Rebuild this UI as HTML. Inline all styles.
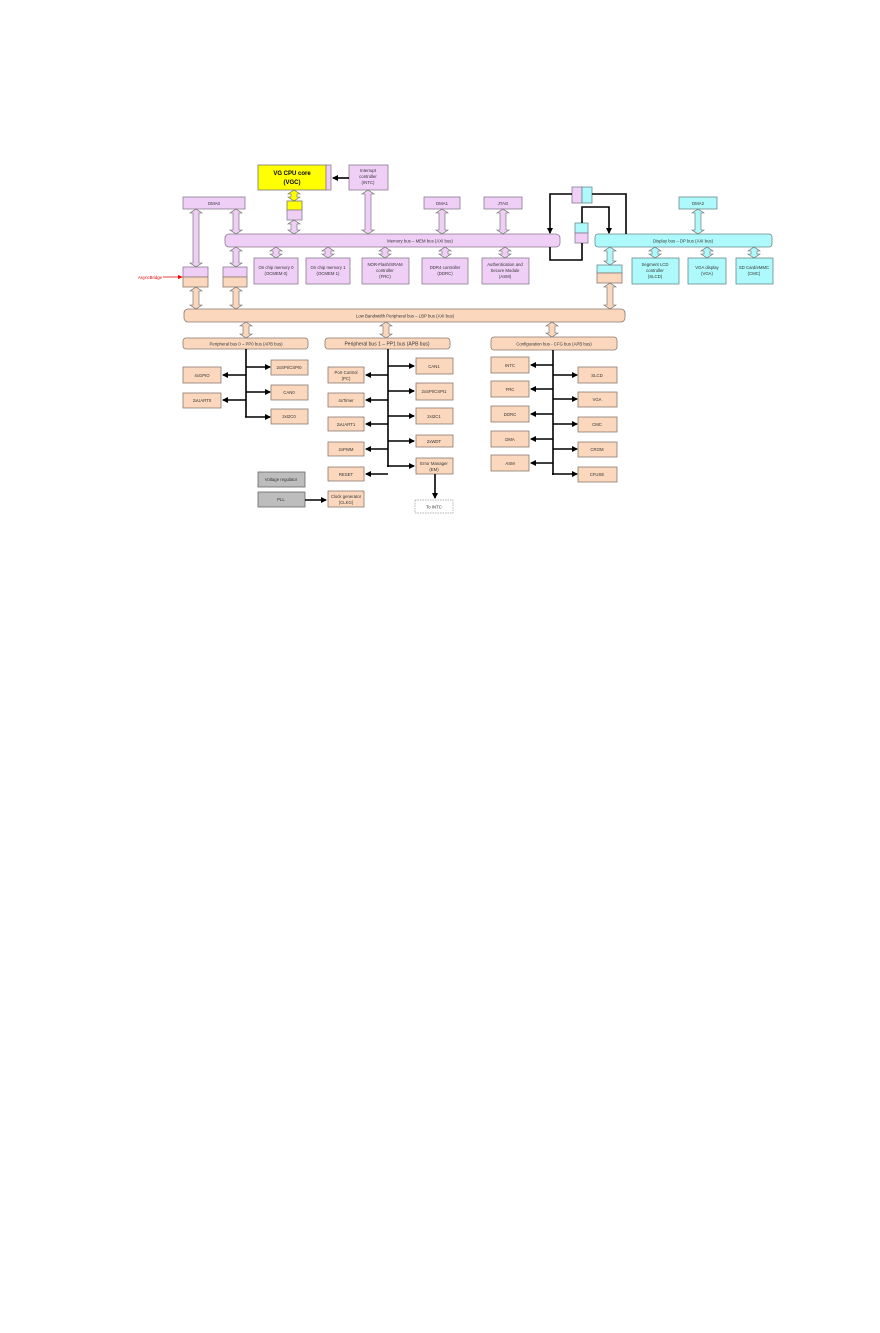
<!DOCTYPE html>
<html><head><meta charset="utf-8"><style>
html,body{margin:0;padding:0;background:#fff;}
svg{display:block;}
text{font-family:"Liberation Sans",sans-serif;font-size:4.3px;fill:#333;text-anchor:middle;}
.p{fill:#f0cff7;stroke:#8a7a90;stroke-width:0.8;}
.c{fill:#aef9fb;stroke:#6a8a8c;stroke-width:0.8;}
.o{fill:#fbd8bd;stroke:#8a7a70;stroke-width:0.8;}
.g{fill:#bdbdbd;stroke:#666;stroke-width:0.8;}
.ap{fill:#f0cff7;stroke:#666;stroke-width:0.6;}
.ac{fill:#aef9fb;stroke:#666;stroke-width:0.6;}
.ao{fill:#fbd8bd;stroke:#666;stroke-width:0.6;}
.ln{stroke:#000;stroke-width:1.6;fill:none;}
</style></head><body>
<svg width="880" height="1333" viewBox="0 0 880 1333" xmlns="http://www.w3.org/2000/svg">
<defs><marker id="ah" markerWidth="6" markerHeight="6" refX="5" refY="3" orient="auto" markerUnits="userSpaceOnUse"><path d="M0,0L6,3L0,6z" fill="#000"/></marker></defs>

<!-- CPU -->
<rect x="258" y="165" width="68" height="25" fill="#ffff00" stroke="#777" stroke-width="0.8"/>
<rect x="326" y="165" width="5" height="25" class="p"/>
<text x="292" y="175" style="font-size:6px;font-weight:bold;fill:#000">VG CPU core</text>
<text x="292" y="184" style="font-size:6px;font-weight:bold;fill:#000">(VGC)</text>
<rect x="349" y="165" width="39" height="25" class="p"/>
<text x="368" y="172">Interrupt</text><text x="368" y="178">controller</text><text x="368" y="184">(INTC)</text>
<line x1="349" y1="178" x2="333" y2="178" class="ln" marker-end="url(#ah)"/>
<rect x="287" y="201" width="15" height="9" fill="#ffff00" stroke="#777" stroke-width="0.8"/>
<rect x="287" y="210" width="15" height="10" class="p"/>
<path d="M294,190l6,4h-3v3h3l-6,4l-6,-4h3v-3h-3z" fill="#ffff00" stroke="#666" stroke-width="0.6"/>

<!-- top purple boxes -->
<rect x="183" y="197" width="62" height="12" class="p"/><text x="214" y="205">DMA0</text>
<rect x="424" y="197" width="36" height="12" class="p"/><text x="442" y="205">DMA1</text>
<rect x="484" y="197" width="38" height="12" class="p"/><text x="503" y="205">JTAG</text>
<rect x="679" y="197" width="38" height="12" class="c"/><text x="698" y="205">DMA2</text>

<!-- memory bus -->
<rect x="225" y="234" width="335" height="13" rx="4" class="p"/>
<text x="420" y="242.5">Memory bus – MEM bus (AXI bus)</text>
<rect x="595" y="234" width="177" height="13" rx="3" class="c"/>
<text x="683" y="242.5">Display bus – DP bus (AXI bus)</text>

<!-- memory modules -->
<rect x="254" y="258" width="44" height="26" class="p"/><text x="276" y="269">On chip memory 0</text><text x="276" y="275">(OCMEM 0)</text>
<rect x="306" y="258" width="44" height="26" class="p"/><text x="328" y="269">On chip memory 1</text><text x="328" y="275">(OCMEM 1)</text>
<rect x="362" y="258" width="47" height="26" class="p"/><text x="385" y="266">NOR-Flash/SRAM</text><text x="385" y="272">controller</text><text x="385" y="278">(FRC)</text>
<rect x="422" y="258" width="46" height="26" class="p"/><text x="445" y="269">DDR4 controller</text><text x="445" y="275">(DDRC)</text>
<rect x="482" y="258" width="47" height="26" class="p"/><text x="505" y="266">Authentication and</text><text x="505" y="272">Secure Module</text><text x="505" y="278">(ASM)</text>
<rect x="632" y="258" width="47" height="26" class="c"/><text x="655" y="266">Segment LCD</text><text x="655" y="272">controller</text><text x="655" y="278">(SLCD)</text>
<rect x="688" y="258" width="38" height="26" class="c"/><text x="707" y="269">VGA display</text><text x="707" y="275">(VGA)</text>
<rect x="736" y="258" width="37" height="26" class="c"/><text x="754" y="269">SD Card/eMMC</text><text x="754" y="275">(CMC)</text>

<!-- bridges -->
<rect x="183" y="267" width="25" height="10" class="p"/><rect x="183" y="277" width="25" height="10" class="o"/>
<rect x="223" y="267" width="24" height="10" class="p"/><rect x="223" y="277" width="24" height="10" class="o"/>
<rect x="597" y="265" width="25" height="8" class="c"/><rect x="597" y="273" width="25" height="10" class="o"/>
<text x="150" y="279" style="fill:#e00;text-anchor:middle">AsyncBridge</text>
<line x1="163" y1="277" x2="181" y2="277" stroke="#e00" stroke-width="0.8" marker-end="url(#ahr)"/>
<path d="M178,275L183,277L178,279z" fill="#e00"/>

<rect x="572" y="187" width="10" height="16" class="p"/><rect x="582" y="187" width="10" height="16" class="c"/>
<rect x="575" y="223" width="13" height="10" class="c"/><rect x="575" y="233" width="13" height="10" class="p"/>
<polyline points="572,194 550,194 550,233" class="ln" marker-end="url(#ah)"/>
<polyline points="592,194 626,194 626,234" class="ln"/>
<polyline points="582,223 582,207 609,207 609,233" class="ln" marker-end="url(#ah)"/>
<polyline points="550,247 550,260 582,260 582,243" class="ln"/>

<!-- LBP bus -->
<rect x="184" y="309" width="441" height="13" rx="4" class="o"/>
<text x="405" y="317.5">Low Bandwidth Peripheral bus – LBP bus (AXI bus)</text>

<!-- double arrows -->
<g class="ap">
<path d="M196,209l6,4h-3v50h3l-6,4l-6,-4h3v-50h-3z"/>
<path d="M236,209l6,4h-3v17h3l-6,4l-6,-4h3v-17h-3z"/>
<path d="M236,247l6,4h-3v12h3l-6,4l-6,-4h3v-12h-3z"/>
<path d="M294,220l6,4h-3v6h3l-6,4l-6,-4h3v-6h-3z"/>
<path d="M368,190l6,4h-3v36h3l-6,4l-6,-4h3v-36h-3z"/>
<path d="M442,209l6,4h-3v17h3l-6,4l-6,-4h3v-17h-3z"/>
<path d="M503,209l6,4h-3v17h3l-6,4l-6,-4h3v-17h-3z"/>
<path d="M276,247l6,4h-3v3h3l-6,4l-6,-4h3v-3h-3z"/>
<path d="M328,247l6,4h-3v3h3l-6,4l-6,-4h3v-3h-3z"/>
<path d="M385,247l6,4h-3v3h3l-6,4l-6,-4h3v-3h-3z"/>
<path d="M445,247l6,4h-3v3h3l-6,4l-6,-4h3v-3h-3z"/>
<path d="M505,247l6,4h-3v3h3l-6,4l-6,-4h3v-3h-3z"/>
</g>
<g class="ao">
<path d="M196,287l6,4h-3v14h3l-6,4l-6,-4h3v-14h-3z"/>
<path d="M236,287l6,4h-3v14h3l-6,4l-6,-4h3v-14h-3z"/>
<path d="M246,322l6,4h-3v8h3l-6,4l-6,-4h3v-8h-3z"/>
<path d="M386,322l6,4h-3v8h3l-6,4l-6,-4h3v-8h-3z"/>
<path d="M552,322l6,4h-3v7h3l-6,4l-6,-4h3v-7h-3z"/>
<path d="M610,283l6,4h-3v18h3l-6,4l-6,-4h3v-18h-3z"/>
</g>
<g class="ac">
<path d="M698,209l6,4h-3v17h3l-6,4l-6,-4h3v-17h-3z"/>
<path d="M610,247l6,4h-3v10h3l-6,4l-6,-4h3v-10h-3z"/>
<path d="M655,247l6,4h-3v3h3l-6,4l-6,-4h3v-3h-3z"/>
<path d="M707,247l6,4h-3v3h3l-6,4l-6,-4h3v-3h-3z"/>
<path d="M754,247l6,4h-3v3h3l-6,4l-6,-4h3v-3h-3z"/>
</g>

<!-- APB buses -->
<rect x="183" y="338" width="125" height="11" rx="3" class="o"/><text x="246" y="345.5">Peripheral bus 0 – PP0 bus (APB bus)</text>
<rect x="325" y="338" width="125" height="11" rx="3" class="o"/><text x="387" y="345.5" style="font-size:5px">Peripheral bus 1 – PP1 bus (APB bus)</text>
<rect x="491" y="337" width="126" height="13" rx="3" class="o"/><text x="554" y="345.5">Configuration bus - CFG bus (APB bus)</text>

<!-- PP0 -->
<line x1="246" y1="349" x2="246" y2="417" class="ln"/>
<rect x="183" y="367" width="38" height="16" class="o"/><text x="202" y="377">4xGPIO</text>
<rect x="183" y="393" width="38" height="15" class="o"/><text x="202" y="402">2xUART0</text>
<rect x="271" y="360" width="37" height="15" class="o"/><text x="289" y="369">2xSPI/CSPI0</text>
<rect x="271" y="385" width="37" height="15" class="o"/><text x="289" y="394">CAN0</text>
<rect x="271" y="409" width="37" height="15" class="o"/><text x="289" y="418">2xI2C0</text>
<line x1="246" y1="375" x2="223" y2="375" class="ln" marker-end="url(#ah)"/>
<line x1="246" y1="400" x2="223" y2="400" class="ln" marker-end="url(#ah)"/>
<line x1="246" y1="367" x2="270" y2="367" class="ln" marker-end="url(#ah)"/>
<line x1="246" y1="392" x2="270" y2="392" class="ln" marker-end="url(#ah)"/>
<line x1="245" y1="417" x2="270" y2="417" class="ln" marker-end="url(#ah)"/>

<!-- PP1 -->
<line x1="388" y1="349" x2="388" y2="467" class="ln"/>
<rect x="328" y="367" width="36" height="16" class="o"/><text x="346" y="374">Port Control</text><text x="346" y="380">(PC)</text>
<rect x="328" y="393" width="36" height="14" class="o"/><text x="346" y="402">4xTimer</text>
<rect x="328" y="417" width="36" height="14" class="o"/><text x="346" y="426">2xUART1</text>
<rect x="328" y="442" width="36" height="14" class="o"/><text x="346" y="451">2xPWM</text>
<rect x="328" y="467" width="36" height="14" class="o"/><text x="346" y="476">RESET</text>
<rect x="328" y="491" width="36" height="16" class="o"/><text x="346" y="498">Clock generator</text><text x="346" y="504">(CLKG)</text>
<rect x="416" y="358" width="37" height="16" class="o"/><text x="434" y="368">CAN1</text>
<rect x="416" y="383" width="37" height="17" class="o"/><text x="434" y="393">2xSPI/CSPI1</text>
<rect x="416" y="408" width="37" height="16" class="o"/><text x="434" y="418">2xI2C1</text>
<rect x="416" y="435" width="37" height="12" class="o"/><text x="434" y="443">2xWDT</text>
<rect x="416" y="458" width="37" height="16" class="o"/><text x="434" y="465">Error Manager</text><text x="434" y="471">(EM)</text>
<rect x="415" y="500" width="38" height="13" fill="#fff" stroke="#999" stroke-width="0.7" stroke-dasharray="1.5,1"/><text x="434" y="508.5">To INTC</text>
<line x1="435" y1="474" x2="435" y2="498" class="ln" marker-end="url(#ah)"/>
<rect x="258" y="472" width="47" height="15" class="g"/><text x="281" y="481">Voltage regulator</text>
<rect x="258" y="492" width="47" height="15" class="g"/><text x="281" y="501">PLL</text>
<line x1="305" y1="500" x2="326" y2="500" class="ln" marker-end="url(#ah)"/>
<line x1="388" y1="375" x2="366" y2="375" class="ln" marker-end="url(#ah)"/>
<line x1="388" y1="400" x2="366" y2="400" class="ln" marker-end="url(#ah)"/>
<line x1="388" y1="424" x2="366" y2="424" class="ln" marker-end="url(#ah)"/>
<line x1="388" y1="449" x2="366" y2="449" class="ln" marker-end="url(#ah)"/>
<line x1="388" y1="474" x2="366" y2="474" class="ln" marker-end="url(#ah)"/>
<line x1="388" y1="366" x2="414" y2="366" class="ln" marker-end="url(#ah)"/>
<line x1="388" y1="391" x2="414" y2="391" class="ln" marker-end="url(#ah)"/>
<line x1="388" y1="416" x2="414" y2="416" class="ln" marker-end="url(#ah)"/>
<line x1="388" y1="441" x2="414" y2="441" class="ln" marker-end="url(#ah)"/>
<line x1="387" y1="466" x2="414" y2="466" class="ln" marker-end="url(#ah)"/>

<!-- CFG -->
<line x1="553" y1="350" x2="553" y2="475" class="ln"/>
<rect x="491" y="357" width="38" height="16" class="o"/><text x="510" y="367">INTC</text>
<rect x="491" y="381" width="38" height="16" class="o"/><text x="510" y="391">FRC</text>
<rect x="491" y="406" width="38" height="16" class="o"/><text x="510" y="416">DDRC</text>
<rect x="491" y="431" width="38" height="16" class="o"/><text x="510" y="441">DMA</text>
<rect x="491" y="455" width="38" height="16" class="o"/><text x="510" y="465">ASM</text>
<rect x="578" y="367" width="39" height="16" class="o"/><text x="597" y="377">SLCD</text>
<rect x="578" y="392" width="39" height="15" class="o"/><text x="597" y="401">VGA</text>
<rect x="578" y="417" width="39" height="15" class="o"/><text x="597" y="426">CMC</text>
<rect x="578" y="442" width="39" height="15" class="o"/><text x="597" y="451">CROM</text>
<rect x="578" y="467" width="39" height="15" class="o"/><text x="597" y="476">CFUSE</text>
<line x1="553" y1="365" x2="531" y2="365" class="ln" marker-end="url(#ah)"/>
<line x1="553" y1="389" x2="531" y2="389" class="ln" marker-end="url(#ah)"/>
<line x1="553" y1="414" x2="531" y2="414" class="ln" marker-end="url(#ah)"/>
<line x1="553" y1="439" x2="531" y2="439" class="ln" marker-end="url(#ah)"/>
<line x1="553" y1="463" x2="531" y2="463" class="ln" marker-end="url(#ah)"/>
<line x1="553" y1="375" x2="577" y2="375" class="ln" marker-end="url(#ah)"/>
<line x1="553" y1="399" x2="577" y2="399" class="ln" marker-end="url(#ah)"/>
<line x1="553" y1="424" x2="577" y2="424" class="ln" marker-end="url(#ah)"/>
<line x1="553" y1="449" x2="577" y2="449" class="ln" marker-end="url(#ah)"/>
<line x1="552" y1="474" x2="577" y2="474" class="ln" marker-end="url(#ah)"/>
</svg>
</body></html>
